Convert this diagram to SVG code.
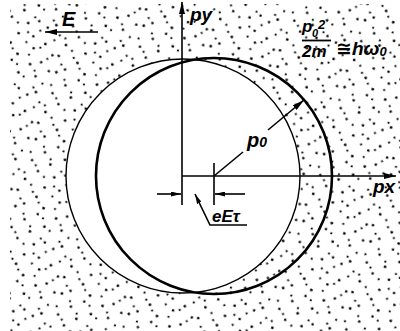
<svg xmlns="http://www.w3.org/2000/svg" width="400" height="331" viewBox="0 0 400 331">
<style>
.t{font-family:"Liberation Sans","DejaVu Sans",sans-serif;font-style:italic;font-weight:bold;fill:#000}
.ln{stroke:#000;fill:none;stroke-width:1.6}
</style>
<defs>
<pattern id="dots" width="56" height="56" patternUnits="userSpaceOnUse" patternTransform="rotate(17) scale(1.25)">
<g fill="#000">
<circle cx="6" cy="3" r="1"/><circle cx="10" cy="6" r="0.9"/><circle cx="21" cy="2" r="1.1"/><circle cx="31" cy="5" r="0.9"/><circle cx="35" cy="7" r="1"/><circle cx="46" cy="3" r="0.9"/><circle cx="49" cy="6" r="1.1"/>
<circle cx="3" cy="14" r="0.9"/><circle cx="13" cy="10" r="1"/><circle cx="19" cy="13" r="0.9"/><circle cx="27" cy="11" r="1.1"/><circle cx="38" cy="14" r="0.9"/><circle cx="43" cy="10" r="1"/><circle cx="54" cy="13" r="0.9"/>
<circle cx="5" cy="19" r="1.1"/><circle cx="11" cy="22" r="0.9"/><circle cx="22" cy="21" r="1"/><circle cx="29" cy="18" r="0.9"/><circle cx="34" cy="20" r="1"/><circle cx="45" cy="23" r="1.1"/><circle cx="51" cy="18" r="0.9"/>
<circle cx="2" cy="29" r="1"/><circle cx="14" cy="27" r="0.9"/><circle cx="18" cy="30" r="1.1"/><circle cx="30" cy="26" r="0.9"/><circle cx="37" cy="29" r="1"/><circle cx="42" cy="27" r="0.9"/><circle cx="53" cy="30" r="1"/>
<circle cx="6" cy="35" r="0.9"/><circle cx="10" cy="38" r="1"/><circle cx="21" cy="34" r="0.9"/><circle cx="26" cy="37" r="1.1"/><circle cx="35" cy="35" r="0.9"/><circle cx="46" cy="38" r="1"/><circle cx="50" cy="34" r="0.9"/>
<circle cx="4" cy="42" r="1.1"/><circle cx="12" cy="46" r="0.9"/><circle cx="23" cy="43" r="1"/><circle cx="28" cy="45" r="0.9"/><circle cx="38" cy="42" r="1.1"/><circle cx="43" cy="46" r="0.9"/><circle cx="54" cy="43" r="1"/>
<circle cx="3" cy="53" r="0.9"/><circle cx="14" cy="50" r="1"/><circle cx="20" cy="54" r="0.9"/><circle cx="31" cy="51" r="1.1"/><circle cx="36" cy="53" r="0.9"/><circle cx="45" cy="50" r="1"/><circle cx="52" cy="54" r="0.9"/>
</g>
</pattern>
<marker id="ah" viewBox="0 0 12 6" refX="12" refY="3" markerWidth="12" markerHeight="6" markerUnits="userSpaceOnUse" orient="auto">
<path d="M0,0 L12,3 L0,6 z" fill="#000"/>
</marker>
<marker id="ahs" viewBox="0 0 10 5" refX="10" refY="2.5" markerWidth="10" markerHeight="5" markerUnits="userSpaceOnUse" orient="auto">
<path d="M0,0 L10,2.5 L0,5 z" fill="#000"/>
</marker>
</defs>
<rect width="400" height="331" fill="#fff"/>
<rect id="shading" x="10" y="4" width="390" height="327" fill="url(#dots)"/>
<g id="sphere-equilibrium">
<circle cx="183" cy="176" r="117" fill="#fff" stroke="#000" stroke-width="1.4"/>
</g>
<g id="sphere-shifted">
<circle cx="214" cy="176" r="118" fill="none" stroke="#000" stroke-width="2.6"/>
</g>
<g id="connectors">
<line class="ln" x1="182" y1="205" x2="182" y2="2" marker-end="url(#ah)"/>
<line class="ln" x1="182" y1="176" x2="396" y2="176" marker-end="url(#ah)"/>
<line class="ln" x1="214" y1="163" x2="214" y2="205"/>
<line class="ln" x1="157" y1="194" x2="181" y2="194" marker-end="url(#ahs)"/>
<line class="ln" x1="245" y1="194" x2="215" y2="194" marker-end="url(#ahs)"/>
<polyline class="ln" points="247,225 210,225 195,194" marker-end="url(#ahs)"/>
<line class="ln" x1="214" y1="176" x2="243" y2="152"/>
<line class="ln" x1="268" y1="130" x2="304" y2="100" marker-end="url(#ah)"/>
<line class="ln" x1="98" y1="32" x2="45" y2="32" marker-end="url(#ah)"/>
</g>
<g id="labels">
<text class="t" x="62" y="26" font-size="20">E</text>
<text class="t" x="190" y="21" font-size="19">py</text>
<text class="t" x="373" y="193" font-size="19">px</text>
<text class="t" x="247" y="147" font-size="20">p<tspan font-size="14">0</tspan></text>
<text class="t" x="212" y="222" font-size="17">eEτ</text>
<text class="t" x="302" y="32" font-size="17">p</text>
<text class="t" x="312" y="37" font-size="11">0</text>
<text class="t" x="318" y="29" font-size="13">2</text>
<line x1="302" y1="40.5" x2="331" y2="40.5" stroke="#000" stroke-width="1.8"/>
<text class="t" x="302" y="57" font-size="17">2m</text>
<text class="t" x="336" y="55" font-size="19">≅hω<tspan font-size="13" dy="1">0</tspan></text>
</g>
</svg>
